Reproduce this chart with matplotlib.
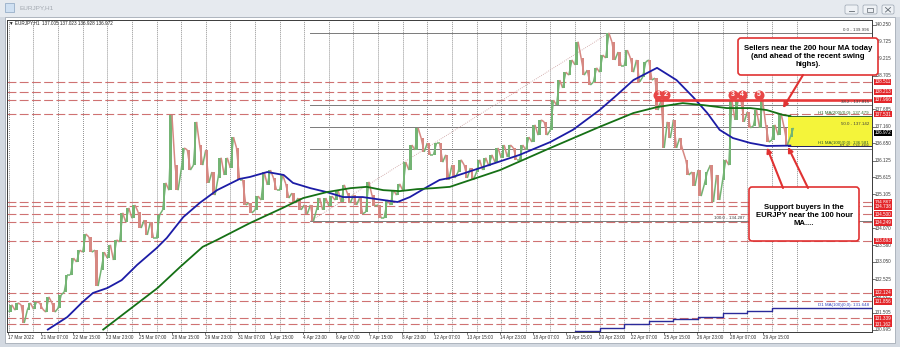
import matplotlib.pyplot as plt
from matplotlib.patches import Rectangle, FancyBboxPatch
from matplotlib.collections import LineCollection
from matplotlib.transforms import blended_transform_factory as blend

# EURJPY H1, drawn in 6-hour blocks; bar 0 = 17 Mar 2022 23:00
block_high = [131.75, 131.81, 131.75, 131.81, 131.84, 131.81, 131.99, 131.81, 132.05, 132.65,
              133.17, 133.41, 133.90, 133.81, 133.41, 133.35, 133.57, 133.72, 134.54, 134.69,
              134.78, 134.57, 134.32, 134.26, 134.48, 135.45, 137.51, 135.99, 136.51, 136.45,
              137.30, 136.60, 136.45, 135.78, 136.21, 136.21, 136.84, 136.51, 135.54, 134.84,
              135.05, 135.78, 135.84, 135.60, 135.69, 135.42, 135.14, 134.99, 134.78, 134.78,
              134.99, 134.99, 135.05, 135.23, 135.39, 135.14, 135.08, 134.99, 135.48, 135.08,
              134.78, 134.93, 135.23, 135.42, 136.08, 136.60, 137.12, 136.81, 136.66, 136.66,
              136.66, 136.30, 135.99, 136.15, 135.99, 135.90, 136.15, 136.21, 136.30, 136.51,
              136.60, 136.60, 136.51, 136.60, 136.84, 137.21, 137.36, 137.30, 137.96, 138.57,
              138.81, 139.18, 139.73, 139.24, 138.87, 138.94, 139.33, 140.00, 139.73, 139.42,
              139.48, 139.24, 139.18, 139.12, 139.18, 138.63, 137.96, 137.30, 137.36, 136.81,
              136.15, 135.78, 135.84, 135.78, 135.99, 135.69, 136.15, 137.96, 137.95, 137.93,
              137.60, 137.66, 137.94, 137.21, 137.21, 137.55, 137.12, 137.12]
block_low = [131.53, 131.59, 131.20, 131.59, 131.62, 131.62, 131.53, 131.53, 131.65, 132.14,
             132.65, 133.05, 133.35, 133.35, 132.32, 132.81, 133.17, 133.11, 133.66, 134.26,
             134.38, 134.08, 133.87, 133.78, 133.78, 134.63, 135.23, 135.23, 135.84, 135.84,
             135.99, 135.99, 135.45, 135.08, 135.60, 135.69, 135.90, 135.54, 134.78, 134.54,
             134.63, 134.93, 135.39, 135.23, 135.23, 134.99, 134.84, 134.63, 134.51, 134.29,
             134.63, 134.63, 134.75, 134.93, 134.87, 134.84, 134.78, 134.51, 134.57, 134.75,
             134.38, 134.38, 134.78, 135.08, 135.23, 135.84, 136.45, 136.39, 136.30, 136.30,
             136.08, 135.54, 135.60, 135.78, 135.60, 135.54, 135.78, 135.84, 135.96, 136.08,
             136.21, 136.24, 136.15, 136.15, 136.45, 136.69, 136.90, 136.90, 137.06, 137.81,
             138.33, 138.72, 139.03, 138.72, 138.42, 138.51, 138.81, 139.24, 139.18, 139.00,
             139.00, 138.81, 138.51, 138.66, 138.57, 137.66, 136.51, 136.81, 136.51, 136.45,
             135.69, 135.36, 135.05, 135.39, 134.87, 134.93, 135.54, 135.99, 137.36, 137.30,
             137.12, 137.18, 137.12, 136.69, 136.75, 136.90, 136.60, 136.84]

ma100_bar = [39, 58, 73, 83, 97, 111, 126, 145, 155, 171, 187, 204, 226, 236, 253, 269, 278,
             295, 311, 327, 346, 366, 380, 392, 409, 421, 431, 470, 499, 529, 551, 577, 594,
             610, 633, 652, 668, 682, 694, 707, 724, 740, 763]
ma100_val = [131.00, 131.38, 131.84, 132.11, 132.26, 132.50, 132.96, 133.47, 133.78, 134.41,
             134.84, 135.23, 135.57, 135.63, 135.78, 135.69, 135.45, 135.29, 135.17, 135.02,
             135.02, 134.93, 134.87, 135.02, 135.33, 135.54, 135.60, 136.00, 136.30, 136.69,
             137.06, 137.66, 138.12, 138.57, 138.94, 138.57, 138.06, 137.57, 137.06, 136.81,
             136.66, 136.57, 136.581]
ma200_bar = [93, 122, 146, 168, 190, 204, 236, 268, 288, 311, 334, 350, 366, 382, 399, 415,
             431, 480, 529, 577, 610, 633, 658, 678, 701, 724, 740, 756, 763]
ma200_val = [131.00, 131.69, 132.26, 132.90, 133.51, 133.72, 134.23, 134.69, 134.99, 135.17,
             135.29, 135.33, 135.23, 135.20, 135.26, 135.29, 135.33, 135.84, 136.51, 137.15,
             137.57, 137.75, 137.87, 137.81, 137.72, 137.72, 137.66, 137.51, 137.479]
d1ma_bar = [529, 553, 577, 601, 625, 649, 673, 697, 721, 745]
d1ma_val = [130.86, 130.96, 131.05, 131.17, 131.26, 131.32, 131.38, 131.50, 131.56, 131.648]

red_levels = [138.511, 138.213, 137.966, 137.531, 134.867, 134.738, 134.500, 134.249,
              133.693, 132.124, 131.856, 131.339, 131.162]
price_ticks = [140.250, 139.725, 139.215, 138.705, 137.685, 137.160, 136.650, 136.125,
               135.615, 135.105, 134.070, 133.560, 133.050, 132.525, 132.015, 131.505, 130.995]
date_labels = ["17 Mar 2022", "21 Mar 07:00", "22 Mar 15:00", "23 Mar 23:00", "25 Mar 07:00",
               "28 Mar 15:00", "29 Mar 23:00", "31 Mar 07:00", "1 Apr 15:00", "4 Apr 23:00",
               "6 Apr 07:00", "7 Apr 15:00", "8 Apr 23:00", "12 Apr 07:00", "13 Apr 15:00",
               "14 Apr 23:00", "18 Apr 07:00", "19 Apr 15:00", "20 Apr 23:00", "22 Apr 07:00",
               "25 Apr 15:00", "26 Apr 23:00", "28 Apr 07:00", "29 Apr 15:00"]
fib_levels = [0.0, 38.2, 50.0, 61.8, 100.0]
fib_low = (295, 134.287)
fib_high = (586, 139.996)
swing_high = 137.966
swing_bar = [634, 641, 707, 716, 732]
ma200_now = 137.479
ma100_now = 136.581
last_price = 136.972

FONT = ['Liberation Sans', 'DejaVu Sans']
XMIN, XMAX = -0.8, 842.6
YMIN, YMAX = 130.926, 140.392
UP, DOWN = '#74b474', '#d68882'

fig = plt.figure(figsize=(9, 3.47), dpi=100)
fig.patch.set_facecolor('#d3d9e1')

bg = fig.add_axes([0, 0, 1, 1], zorder=0)
bg.set_xlim(0, 900)
bg.set_ylim(347, 0)
bg.axis('off')
bg.add_patch(Rectangle((0, 0), 900, 17, fc='#e6eaef', ec='none'))
bg.add_patch(Rectangle((5, 17), 890, 326, fc='white', ec='#a4acb6', lw=0.6))
bg.add_patch(Rectangle((5, 3), 9, 9, fc='#cfe0f2', ec='#8aa4c0', lw=0.5))
bg.text(19, 8, 'EURJPY,H1', fontsize=4.6, color='#a3a9b1', va='center', family=FONT)
for bx, bw in [(845, 13), (863, 14), (882, 12)]:
    bg.add_patch(FancyBboxPatch((bx, 5), bw, 9, boxstyle='round,pad=0,rounding_size=1.5',
                                fc='#eef1f5', ec='#9aa4b0', lw=0.5))
bg.plot([849, 854], [11, 11], color='#606870', lw=0.6)
bg.add_patch(Rectangle((867, 7.5), 6, 4.5, fc='none', ec='#606870', lw=0.5))
bg.plot([885.5, 890.5], [7.5, 12], color='#606870', lw=0.6)
bg.plot([885.5, 890.5], [12, 7.5], color='#606870', lw=0.6)

ax = fig.add_axes([7 / 900, 15 / 347, 865 / 900, 312 / 347], zorder=1)
ax.set_xlim(XMIN, XMAX)
ax.set_ylim(YMIN, YMAX)
ax.set_xticks([])
ax.set_yticks([])
for s in ax.spines.values():
    s.set_color('#3a3a3a')
    s.set_linewidth(0.7)

px = bg.transData
ty = blend(px, ax.transData)
tx = blend(ax.transData, px)

# day separators
for d in range(1, 770, 24):
    ax.axvline(d, color='#505050', lw=0.55, ls=(0, (1, 1.6)), zorder=0.5)

# horizontal levels
for lv in red_levels:
    ax.axhline(lv, color='#cf7272', lw=0.8, ls=(0, (8, 3)), zorder=1)
ax.plot([631, XMAX], [swing_high, swing_high], color='#e8393a', lw=1.9, zorder=3.5,
        solid_capstyle='butt')

rng = fib_high[1] - fib_low[1]
for f in fib_levels:
    lv = fib_high[1] - rng * f / 100
    ax.plot([fib_low[0], XMAX], [lv, lv], color='#7a7a7a', lw=0.7, zorder=1.1)
    # the 100% tag sits behind the lower callout on screen, keep it readable left of it
    lx = 745 if f == 100.0 else 869
    ax.text(lx, lv + 0.03, f'{f:.1f} - {lv:.3f}', transform=ty, fontsize=3.2,
            color='#3c3c3c', ha='right', va='bottom', family=FONT, zorder=4)
ax.plot([fib_low[0], fib_high[0]], [fib_low[1], fib_high[1]], color='#c99a9a', lw=0.6,
        ls=(0, (1, 1.5)), zorder=1.1)

# yellow zone between the hourly MAs
ax.add_patch(Rectangle((761, ma100_now), XMAX - 761, ma200_now - ma100_now,
                       fc='#f4f43a', ec='none', zorder=1.5))
ax.plot([761, XMAX], [ma200_now, ma200_now], color='#2f6a2f', lw=0.7, zorder=1.6)
ax.plot([761, XMAX], [ma100_now, ma100_now], color='#202060', lw=0.7, zorder=1.6)
ax.text(869, ma200_now + 0.02, f'H1 MA(200)(0,0): {ma200_now:.3f}', transform=ty, fontsize=3.2,
        color='#2a6a2a', ha='right', va='bottom', family=FONT, zorder=4)
ax.text(869, ma100_now + 0.02, f'H1 MA(100)(0,0): {ma100_now:.3f}', transform=ty, fontsize=3.2,
        color='#2a5a2a', ha='right', va='bottom', family=FONT, zorder=4)

# candles: thin range bars per 6h block plus a jagged trace through the extremes
xs, ys = [], []
prev_mid = (block_high[0] + block_low[0]) / 2
for k, (h, l) in enumerate(zip(block_high, block_low)):
    mid = (h + l) / 2
    up = mid >= prev_mid
    ax.bar(6 * k + 2.5, h - l, bottom=l, width=2.2, color=UP if up else DOWN, lw=0, zorder=2)
    xs += [6 * k + 1, 6 * k + 4]
    ys += [l, h] if up else [h, l]
    prev_mid = mid
segs = [[(xs[i], ys[i]), (xs[i + 1], ys[i + 1])] for i in range(len(xs) - 1)]
cols = [UP if ys[i + 1] >= ys[i] else DOWN for i in range(len(xs) - 1)]
ax.add_collection(LineCollection(segs, colors=cols, lw=1.1, zorder=2.1))

ax.plot(ma100_bar, ma100_val, color='#1c1ca6', lw=1.3, zorder=3)
ax.plot(ma200_bar, ma200_val, color='#157015', lw=1.3, zorder=3)
ax.step(d1ma_bar + [XMAX], d1ma_val + [d1ma_val[-1]], where='post', color='#2a2a9a',
        lw=1.0, zorder=3)
ax.text(869, d1ma_val[-1] + 0.03, f'D1 MA(100)(0,0): {d1ma_val[-1]:.3f}', transform=ty,
        fontsize=3.2, color='#3545c0', ha='right', va='bottom', family=FONT, zorder=4)

# swing high markers
for n, b in enumerate(swing_bar, 1):
    ax.scatter(b, 138.12, s=52, color='#e84646', zorder=5, lw=0)
    ax.text(b, 138.12, str(n), color='white', fontsize=5, fontweight='bold', ha='center',
            va='center', family=FONT, zorder=5.5)

# right price scale
for p in price_ticks:
    ax.text(875, p, f'{p:.3f}', transform=ty, fontsize=3.3, color='#3a3a3a', va='center',
            ha='left', family=FONT, clip_on=False, zorder=6)
    ax.plot([872, 874.5], [p, p], transform=ty, color='#3a3a3a', lw=0.5, clip_on=False)
for lv in red_levels:
    ax.text(874.5, lv, f'{lv:.3f}', transform=ty, fontsize=3.3, color='white', va='center',
            ha='left', family=FONT, clip_on=False, zorder=7,
            bbox=dict(boxstyle='square,pad=0.15', fc='#e3262a', ec='none'))
ax.text(874.5, last_price, f'{last_price:.3f}', transform=ty, fontsize=3.3, color='white',
        va='center', ha='left', family=FONT, clip_on=False, zorder=7,
        bbox=dict(boxstyle='square,pad=0.15', fc='black', ec='none'))

# bottom time scale
for n, lab in enumerate(date_labels):
    ax.text(32 * n, 337.5, lab, transform=tx, fontsize=3.3, color='#303030', va='center',
            ha='left', family=FONT, clip_on=False)
    ax.plot([32 * n, 32 * n], [332, 334], transform=tx, color='#3a3a3a', lw=0.5, clip_on=False)

ax.text(9, 23, '\u25bc EURJPY,H1  137.005 137.023 136.928 136.972', transform=px,
        fontsize=3.3, color='#202020', va='center', ha='left', family=FONT)

# callouts
red = '#e03232'
for (x0, y0, w, h) in [(738, 38, 140, 37), (749, 187, 110, 54)]:
    box = FancyBboxPatch((x0, y0), w, h, boxstyle='round,pad=0,rounding_size=3',
                         transform=px, fc='white', ec=red, lw=1.2, zorder=8)
    ax.add_patch(box)
    box.set_clip_on(False)
ax.text(808, 56.5, 'Sellers near the 200 hour MA today\n(and ahead of the recent swing\nhighs).',
        transform=px, fontsize=5.6, fontweight='bold', ha='center', va='center',
        linespacing=1.25, family=FONT, zorder=9)
ax.text(804, 215, 'Support buyers in the\nEURJPY near the 100 hour\nMA....',
        transform=px, fontsize=5.6, fontweight='bold', ha='center', va='center',
        linespacing=1.2, family=FONT, zorder=9)

for tail, head in [((803, 75), (755.8, 137.72)), ((783, 188), (740.2, 136.52)),
                   ((808, 188), (760.7, 136.54))]:
    ax.annotate('', xy=head, xytext=tail, textcoords=px, annotation_clip=False,
                arrowprops=dict(arrowstyle='-|>', color=red, lw=1.5, mutation_scale=7,
                                shrinkA=0, shrinkB=0), zorder=9)

fig.savefig('out.png', dpi=100, facecolor=fig.get_facecolor())
